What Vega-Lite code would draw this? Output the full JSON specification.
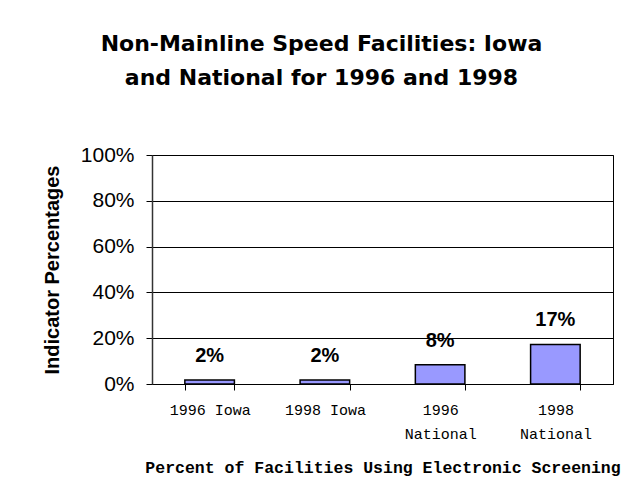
{
  "$schema": "https://vega.github.io/schema/vega-lite/v6.json",
  "autosize": {"type": "none"},
  "width": 461,
  "height": 229,
  "padding": {"left": 152, "top": 155, "right": 10, "bottom": 114},
  "background": "white",
  "config": {
    "view": {"stroke": "black", "strokeWidth": 1},
    "font": "Liberation Sans"
  },
  "title": {
    "text": ["Non-Mainline Speed Facilities: Iowa", "and National for 1996 and 1998"],
    "font": "DejaVu Sans",
    "fontSize": 22,
    "fontWeight": "bold",
    "lineHeight": 34,
    "anchor": "middle",
    "dx": -61,
    "offset": 54,
    "color": "black"
  },
  "data": {
    "values": [
      {"category": "1996 Iowa", "value": 0.017},
      {"category": "1998 Iowa", "value": 0.017},
      {"category": "1996 National", "value": 0.084},
      {"category": "1998 National", "value": 0.173}
    ]
  },
  "encoding": {
    "x": {
      "field": "category",
      "type": "nominal",
      "sort": null,
      "scale": {"paddingInner": 0.57, "paddingOuter": 0.285},
      "axis": {
        "title": "Percent of Facilities Using Electronic Screening",
        "titleFont": "Liberation Mono",
        "titleFontSize": 16.5,
        "titleFontWeight": "bold",
        "titleColor": "black",
        "titlePadding": 18,
        "labelFont": "Liberation Mono",
        "labelFontSize": 15,
        "labelColor": "black",
        "labelAngle": 0,
        "labelPadding": 12,
        "labelLineHeight": 24,
        "labelExpr": "indexof(datum.label, 'National') >= 0 ? split(datum.label, ' ') : datum.label",
        "tickBand": "extent",
        "tickSize": 6,
        "tickColor": "black",
        "domainColor": "black",
        "grid": false
      }
    },
    "y": {
      "field": "value",
      "type": "quantitative",
      "scale": {"domain": [0, 1], "nice": false},
      "axis": {
        "title": "Indicator Percentages",
        "titleFont": "Liberation Sans",
        "titleFontSize": 20,
        "titleFontWeight": "bold",
        "titleColor": "black",
        "titlePadding": 18,
        "format": ".0%",
        "values": [0, 0.2, 0.4, 0.6, 0.8, 1],
        "labelFont": "Liberation Sans",
        "labelFontSize": 21,
        "labelColor": "black",
        "labelPadding": 12,
        "tickSize": 6,
        "tickColor": "black",
        "domainColor": "#333333",
        "domainWidth": 1.5,
        "grid": true,
        "gridColor": "black",
        "gridOpacity": 1
      }
    }
  },
  "layer": [
    {
      "mark": {"type": "bar", "color": "#9999FF", "stroke": "black", "strokeWidth": 1.5}
    },
    {
      "mark": {"type": "text", "fontWeight": "bold", "fontSize": 20, "font": "Liberation Sans", "baseline": "alphabetic", "dy": -18, "color": "black"},
      "encoding": {
        "text": {"field": "value", "type": "quantitative", "format": ".0%"}
      }
    }
  ]
}
